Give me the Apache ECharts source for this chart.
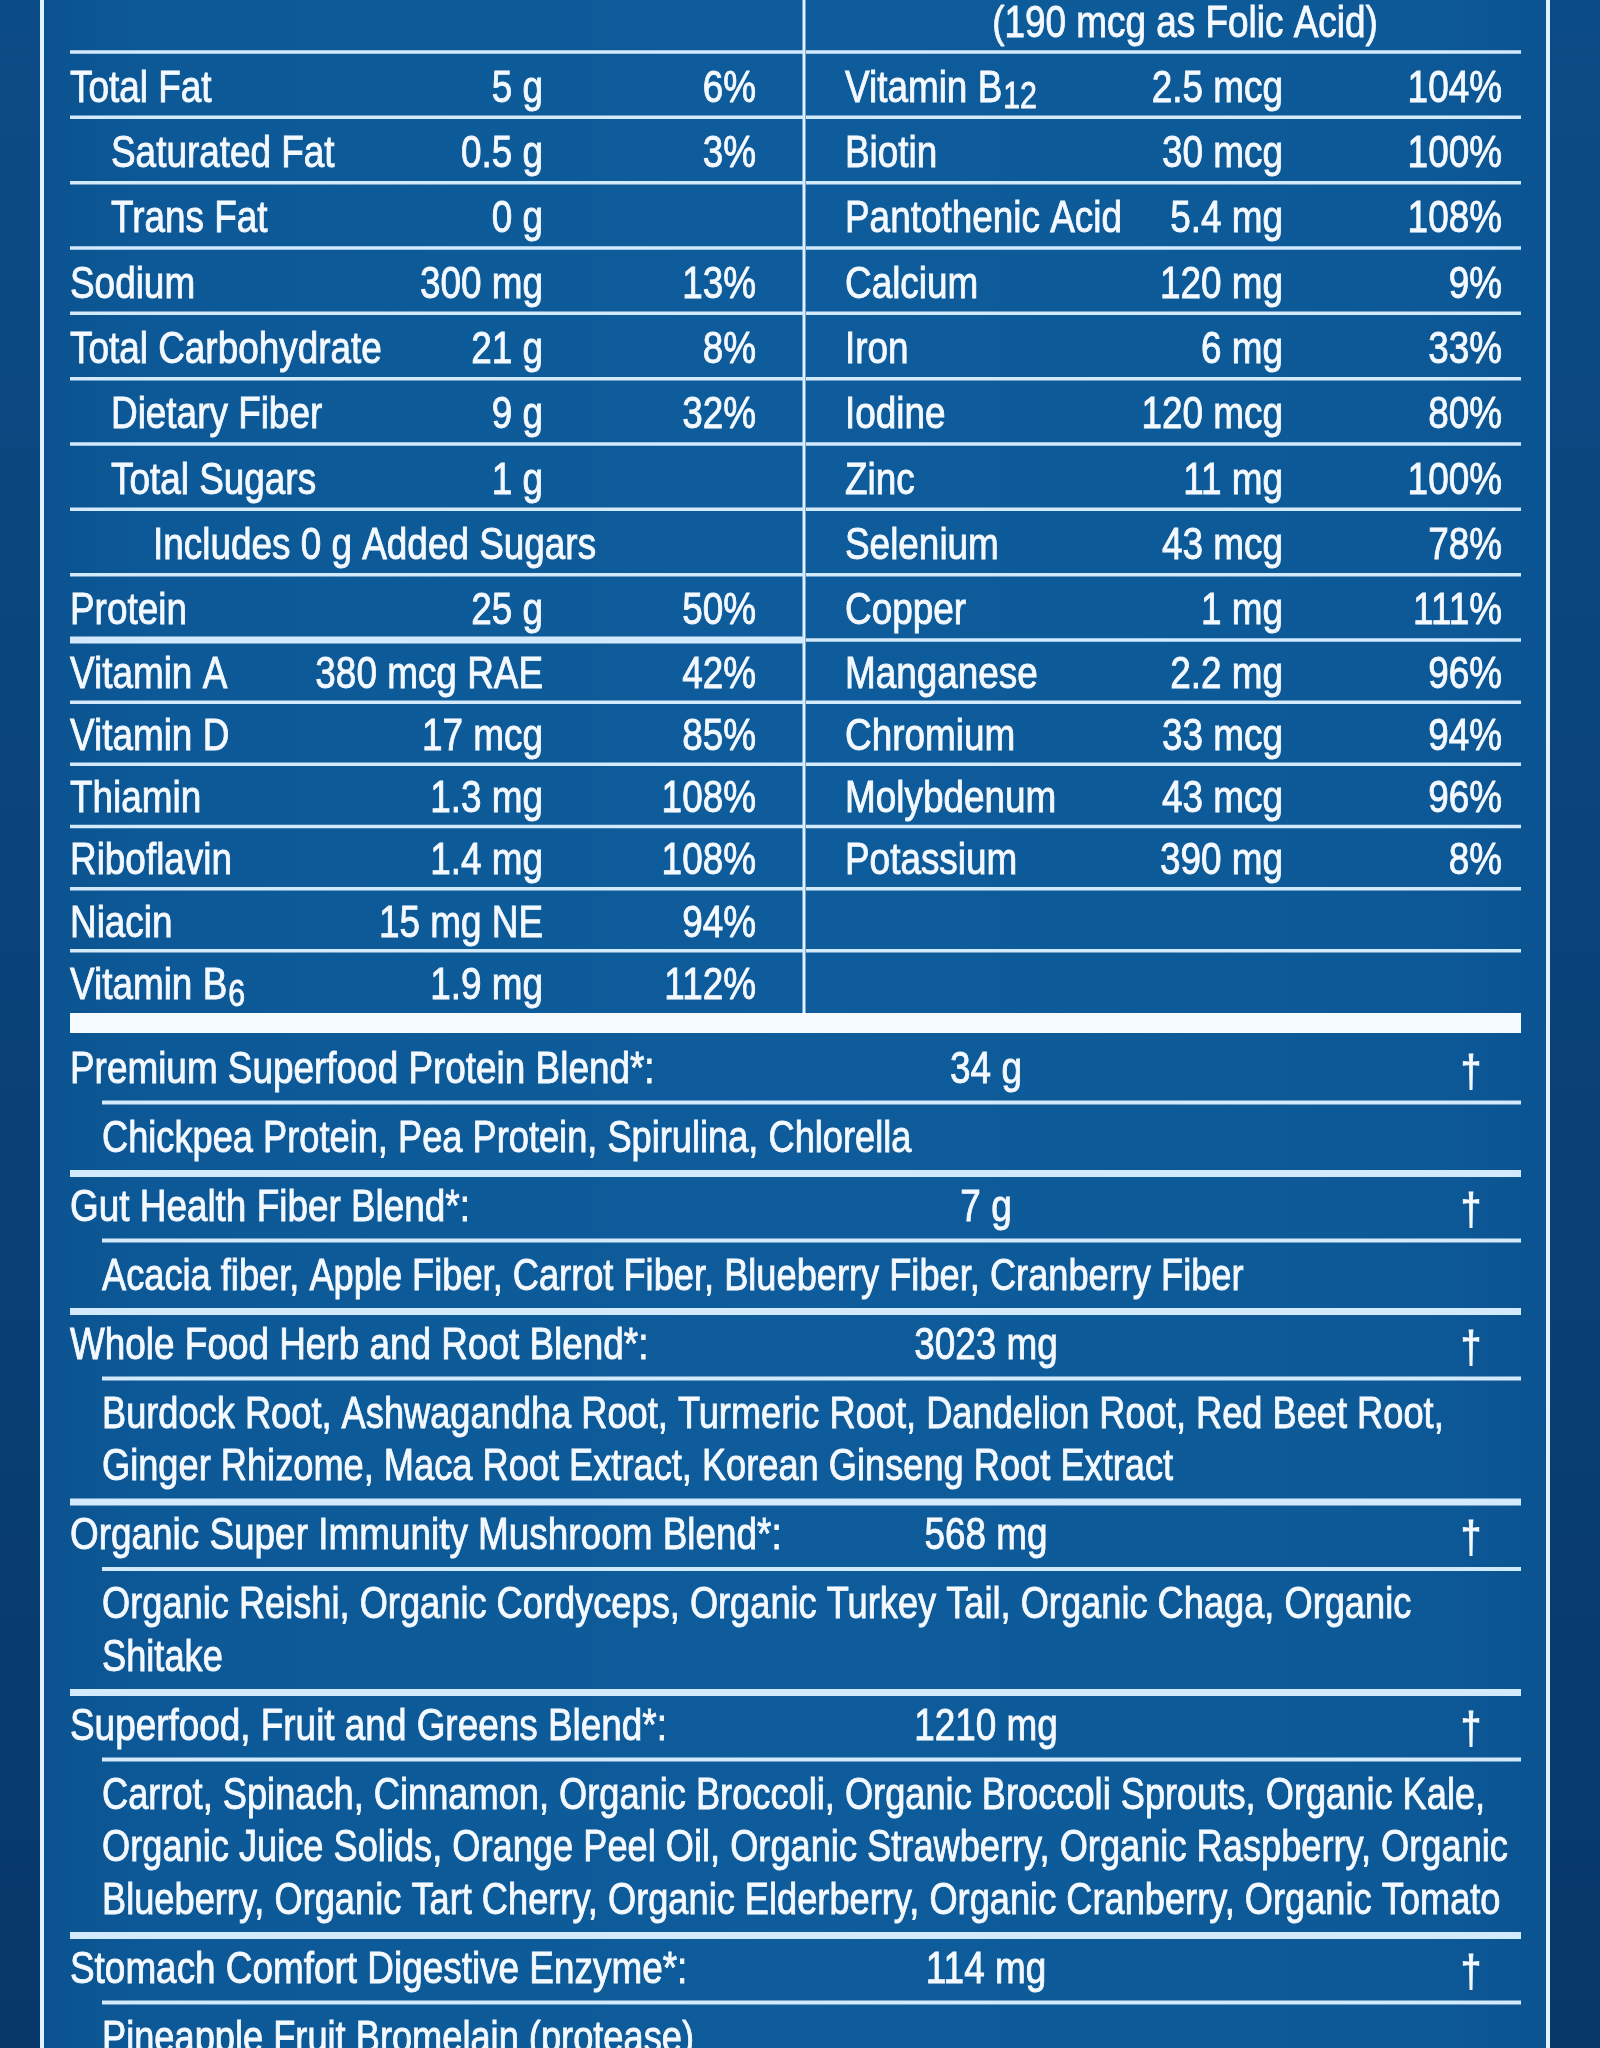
<!DOCTYPE html>
<html><head><meta charset="utf-8">
<script src="https://cdn.jsdelivr.net/npm/echarts@6/dist/echarts.min.js"></script>
<style>html,body{margin:0;padding:0;background:#0b4b84}#c{width:1600px;height:2048px}</style>
</head><body><div id="c"></div><script>
// ---------- DATA ----------
const leftNames = ['Total Fat','Saturated Fat','Trans Fat','Sodium','Total Carbohydrate','Dietary Fiber','Total Sugars','Includes 0 g Added Sugars','Protein','Vitamin A','Vitamin D','Thiamin','Riboflavin','Niacin','Vitamin B6'];
const leftAmounts = ['5 g','0.5 g','0 g','300 mg','21 g','9 g','1 g','','25 g','380 mcg RAE','17 mcg','1.3 mg','1.4 mg','15 mg NE','1.9 mg'];
const leftDV = ['6%','3%','','13%','8%','32%','','','50%','42%','85%','108%','108%','94%','112%'];
const leftLevel = [0,1,1,0,0,1,1,2,0,0,0,0,0,0,0];
const rightNames = ['Vitamin B12','Biotin','Pantothenic Acid','Calcium','Iron','Iodine','Zinc','Selenium','Copper','Manganese','Chromium','Molybdenum','Potassium','',''];
const rightAmounts = ['2.5 mcg','30 mcg','5.4 mg','120 mg','6 mg','120 mcg','11 mg','43 mcg','1 mg','2.2 mg','33 mcg','43 mcg','390 mg','',''];
const rightDV = ['104%','100%','108%','9%','33%','80%','100%','78%','111%','96%','94%','96%','8%','',''];
const folicNote = '(190 mcg as Folic Acid)';
const blendNames = ['Premium Superfood Protein Blend*:','Gut Health Fiber Blend*:','Whole Food Herb and Root Blend*:','Organic Super Immunity Mushroom Blend*:','Superfood, Fruit and Greens Blend*:','Stomach Comfort Digestive Enzyme*:'];
const blendAmounts = ['34 g','7 g','3023 mg','568 mg','1210 mg','114 mg'];
const blendDV = ['†','†','†','†','†','†'];
const blendIngredients = [
  ['Chickpea Protein, Pea Protein, Spirulina, Chlorella'],
  ['Acacia fiber, Apple Fiber, Carrot Fiber, Blueberry Fiber, Cranberry Fiber'],
  ['Burdock Root, Ashwagandha Root, Turmeric Root, Dandelion Root, Red Beet Root,','Ginger Rhizome, Maca Root Extract, Korean Ginseng Root Extract'],
  ['Organic Reishi, Organic Cordyceps, Organic Turkey Tail, Organic Chaga, Organic','Shitake'],
  ['Carrot, Spinach, Cinnamon, Organic Broccoli, Organic Broccoli Sprouts, Organic Kale,','Organic Juice Solids, Orange Peel Oil, Organic Strawberry, Organic Raspberry, Organic','Blueberry, Organic Tart Cherry, Organic Elderberry, Organic Cranberry, Organic Tomato'],
  ['Pineapple Fruit Bromelain (protease)']
];

// ---------- LAYOUT / STYLE ----------
const FONT = '"Liberation Sans", Arial, sans-serif';
const SX = 0.82, SX_ING = 0.805;
const FS = 45, FSB = 45, FSSUB = 37;
const TEXT = '#f4f9ff', LINE = '#d3eafd';
const DY = 3.5;
const LAY = {
  border: [42, 1548], divider: 804,
  leftX0: 70, rightX0: 806, x1: 1521,
  leftName: [70, 111, 153], leftAmt: 543, leftDV: 756,
  rightName: 845, rightAmt: 1283, rightDV: 1502, noteX: 1185, noteY: 21,
  tableTop: 52, rowsA: 9, hA: 65.33, hB: 62.17,
  barTop: 1013, barH: 20,
  subX: 102, blendAmtX: 986, daggerX: 1471,
  firstHeader: 44, headerOff: 31.5, thinOff: 35.5, ingOff: 33.5, ingStep: 52.5, thickOff: 37.5
};
function rowTop(i){ return i < LAY.rowsA ? LAY.tableTop + i*LAY.hA : LAY.tableTop + LAY.rowsA*LAY.hA + (i-LAY.rowsA)*LAY.hB; }
function rowH(i){ return i < LAY.rowsA ? LAY.hA : LAY.hB; }

// blend block positions
const blendPos = [];
(function(){
  let prev = null;
  blendNames.forEach((n, i) => {
    let thick, header;
    if (i === 0) { thick = null; header = LAY.barTop + LAY.barH/2 + LAY.firstHeader; }
    else { thick = prev + LAY.thickOff; header = thick + LAY.headerOff; }
    const thin = header + LAY.thinOff;
    const ing = blendIngredients[i].map((_, k) => thin + LAY.ingOff + k*LAY.ingStep);
    blendPos.push({thick, header, thin, ing});
    prev = ing[ing.length-1];
  });
})();

const mctx = document.createElement('canvas').getContext('2d');
function tw(s, size){ mctx.font = size + 'px ' + FONT; return mctx.measureText(s).width * SX; }

function T(api, x, y, s, align, size, sx){
  const p = api.coord([x, y + DY]);
  return {type:'text', x:p[0], y:p[1], scaleX:sx || SX, silent:true,
    style:{text:s, x:0, y:0, fill:TEXT, stroke:TEXT, lineWidth:0.9, fontSize:size, fontFamily:FONT, align:align, verticalAlign:'middle', textAlign:align, textVerticalAlign:'middle'}};
}
function NAME(api, x, y, s, size){
  const m = /^(.*B)(\d+)$/.exec(s);
  if (!m) return [T(api, x, y, s, 'left', size)];
  const w = tw(m[1], size);
  return [T(api, x, y, m[1], 'left', size), T(api, x + w + 1, y + 9, m[2], 'left', FSSUB)];
}
function LN(api, x0, x1, y, w){
  const a = api.coord([x0, y]), b = api.coord([x1, y]);
  return {type:'line', silent:true, shape:{x1:a[0], y1:a[1], x2:b[0], y2:b[1]}, style:{stroke:LINE, lineWidth:w}};
}

function rowRender(params, api){
  const i = api.value(0);
  const top = rowTop(i), cy = top + rowH(i)/2 + 1;
  const ch = [];
  ch.push(LN(api, LAY.leftX0, LAY.divider, top, i === LAY.rowsA ? 7 : 3.5));
  ch.push(LN(api, LAY.rightX0, LAY.x1, top, 3.5));
  if (i === 0) ch.push(T(api, LAY.noteX, LAY.noteY, folicNote, 'center', FS));
  if (leftNames[i]) ch.push(...NAME(api, LAY.leftName[leftLevel[i]], cy, leftNames[i], FS));
  if (leftAmounts[i]) ch.push(T(api, LAY.leftAmt, cy, leftAmounts[i], 'right', FS));
  if (leftDV[i]) ch.push(T(api, LAY.leftDV, cy, leftDV[i], 'right', FS));
  if (rightNames[i]) ch.push(...NAME(api, LAY.rightName, cy, rightNames[i], FS));
  if (rightAmounts[i]) ch.push(T(api, LAY.rightAmt, cy, rightAmounts[i], 'right', FS));
  if (rightDV[i]) ch.push(T(api, LAY.rightDV, cy, rightDV[i], 'right', FS));
  return {type:'group', children: ch};
}

function blendRender(params, api){
  const i = api.value(0);
  const b = blendPos[i];
  const ch = [];
  if (i === 0) {
    const a = api.coord([LAY.leftX0, LAY.barTop]), c = api.coord([LAY.x1, LAY.barTop + LAY.barH]);
    ch.push({type:'rect', silent:true, shape:{x:a[0], y:a[1], width:c[0]-a[0], height:c[1]-a[1]}, style:{fill:'#f6fbff'}});
  } else {
    ch.push(LN(api, LAY.leftX0, LAY.x1, b.thick, 7));
  }
  ch.push(T(api, LAY.leftX0, b.header, blendNames[i], 'left', FSB));
  ch.push(T(api, LAY.blendAmtX, b.header, blendAmounts[i], 'center', FSB));
  ch.push(T(api, LAY.daggerX, b.header + 3, blendDV[i], 'center', FSB));
  ch.push(LN(api, LAY.subX, LAY.x1, b.thin, 4));
  blendIngredients[i].forEach((s, k) => ch.push(T(api, LAY.subX, b.ing[k], s, 'left', FSB, SX_ING)));
  return {type:'group', children: ch};
}

const chart = echarts.init(document.getElementById('c'), null, {renderer:'canvas', width:1600, height:2048});
chart.setOption({
  animation: false,
  grid: {left:0, right:0, top:0, bottom:0},
  xAxis: {type:'value', min:0, max:1600, show:false},
  yAxis: {type:'value', min:0, max:2048, inverse:true, show:false},
  graphic: [
    {type:'rect', z:-10, silent:true, shape:{x:0, y:0, width:1600, height:2048},
      style:{fill:new echarts.graphic.LinearGradient(0,0,0,1,[{offset:0,color:'#0c4c86'},{offset:1,color:'#07386a'}])}},
    {type:'rect', z:-9, silent:true, shape:{x:LAY.border[0], y:0, width:LAY.border[1]-LAY.border[0], height:2048},
      style:{fill:new echarts.graphic.LinearGradient(0,0,1,0,[{offset:0,color:'#0b5390'},{offset:0.08,color:'#0d5998'},{offset:0.5,color:'#0e5c9b'},{offset:0.92,color:'#0d5998'},{offset:1,color:'#0b5391'}])}},
    {type:'line', z:-8, silent:true, shape:{x1:LAY.border[0], y1:0, x2:LAY.border[0], y2:2048}, style:{stroke:'#e2f1ff', lineWidth:4}},
    {type:'line', z:-8, silent:true, shape:{x1:LAY.border[1], y1:0, x2:LAY.border[1], y2:2048}, style:{stroke:'#e2f1ff', lineWidth:4}},
    {type:'line', z:-8, silent:true, shape:{x1:LAY.divider, y1:0, x2:LAY.divider, y2:LAY.barTop}, style:{stroke:'#e2f1ff', lineWidth:3}}
  ],
  series: [
    {type:'custom', coordinateSystem:'cartesian2d', clip:false, data: leftNames.map((_, i) => [i]), renderItem: rowRender},
    {type:'custom', coordinateSystem:'cartesian2d', clip:false, data: blendNames.map((_, i) => [i]), renderItem: blendRender}
  ]
});
</script></body></html>
